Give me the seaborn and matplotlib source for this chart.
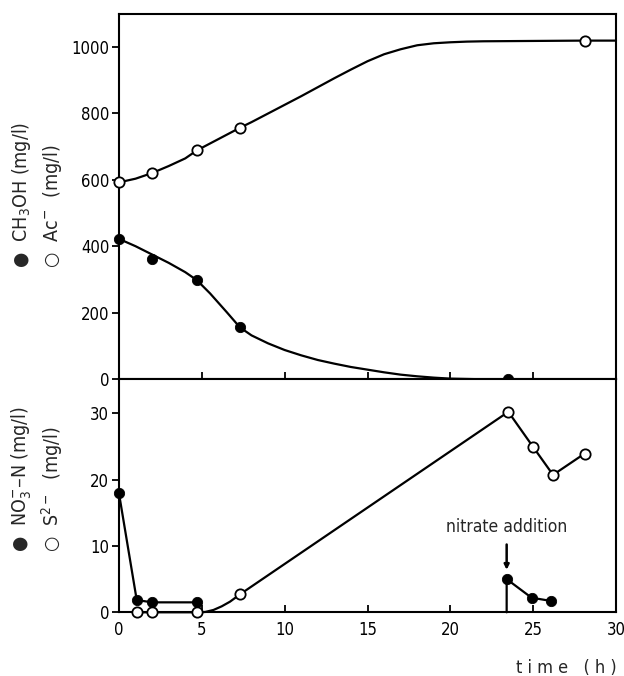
import matplotlib
matplotlib.use("Agg")
import matplotlib.pyplot as plt
import seaborn as sns

# ---- measured points (top panel) ----
ac_t = [0, 2.0, 4.7, 7.3, 28.1]
ac_v = [592, 620, 688, 756, 1018]
meoh_t = [0, 2.0, 4.7, 7.3, 23.5]
meoh_v = [422, 362, 298, 156, 0]

# fitted curves (top panel)
ac_curve_t = [0, 1, 2, 3, 4, 4.7, 6, 7.3, 8, 9, 10, 11, 12, 13, 14, 15, 16, 17, 18, 19, 20, 21, 22, 25, 28, 30]
ac_curve_v = [592, 603, 620, 641, 664, 688, 722, 756, 773, 799, 825, 851, 878, 905, 931, 956, 977, 992, 1004, 1010, 1013, 1015, 1016, 1017, 1018, 1018]
meoh_curve_t = [0, 1, 2, 3, 4, 4.7, 5.5, 6.5, 7.3, 8, 9, 10, 11, 12, 13, 14, 15, 16, 17, 18, 19, 20, 21, 22, 23.5, 30]
meoh_curve_v = [422, 400, 375, 350, 322, 298, 258, 202, 156, 132, 108, 88, 72, 58, 47, 37, 29, 21, 14, 9, 5, 2, 1, 0, 0, 0]

# ---- measured points (bottom panel) ----
no3_t1 = [0, 1.07, 2.0, 4.7]
no3_v1 = [17.9, 1.85, 1.5, 1.5]
no3_t2 = [23.4, 24.9, 26.1]
no3_v2 = [5.0, 2.2, 1.7]
s2_t = [1.07, 2.0, 4.7, 7.3, 23.5, 25.0, 26.2, 28.1]
s2_v = [0, 0, 0, 2.7, 30.2, 24.9, 20.7, 23.9]
# S2- connecting line
s2_line_t = [1.07, 2.0, 4.7, 5.2, 5.7, 6.2, 6.7, 7.3, 23.5, 25.0, 26.2, 28.1]
s2_line_v = [0, 0, 0, 0.05, 0.35, 0.9, 1.6, 2.7, 30.2, 24.9, 20.7, 23.9]

top_yticks = [0, 200, 400, 600, 800, 1000]
bot_yticks = [0, 10, 20, 30]
xticks = [0, 5, 10, 15, 20, 25, 30]

sns.set_theme(style="ticks")
plt.rcParams['font.family'] = ['DejaVu Sans']
plt.rcParams['font.stretch'] = 'condensed'
plt.rcParams['axes.linewidth'] = 1.5

fig = plt.figure(figsize=(6.24, 6.76), dpi=100)
L, R = 119 / 624, 616 / 624
ax1 = fig.add_axes([L, 1 - 379.3 / 676, R - L, (379.3 - 14) / 676])
ax2 = fig.add_axes([L, 1 - 612.3 / 676, R - L, (612.3 - 379.3) / 676])

lw = 1.6
ms = 55
fs = 12
lfs = 14

def line(ax, x, y):
    sns.lineplot(x=x, y=y, ax=ax, color='black', lw=lw, sort=False, estimator=None)

# top panel
line(ax1, ac_curve_t, ac_curve_v)
line(ax1, meoh_curve_t, meoh_curve_v)
sns.scatterplot(x=ac_t, y=ac_v, ax=ax1, marker='o', s=ms, facecolor='white',
                edgecolor='black', linewidth=1.3, zorder=5, clip_on=False)
sns.scatterplot(x=meoh_t, y=meoh_v, ax=ax1, marker='o', s=ms, color='black',
                edgecolor='black', zorder=5, clip_on=False)

# bottom panel
line(ax2, no3_t1, no3_v1)
line(ax2, [no3_t2[0]] + no3_t2, [0] + no3_v2)
line(ax2, s2_line_t, s2_line_v)
sns.scatterplot(x=s2_t, y=s2_v, ax=ax2, marker='o', s=ms, facecolor='white',
                edgecolor='black', linewidth=1.3, zorder=5, clip_on=False)
sns.scatterplot(x=no3_t1 + no3_t2, y=no3_v1 + no3_v2, ax=ax2, marker='o', s=ms,
                color='black', edgecolor='black', zorder=6, clip_on=False)

ax2.annotate('nitrate addition', xy=(23.4, 6.4), xytext=(23.4, 12.9),
             ha='center', va='center', fontsize=fs + 0.5,
             arrowprops=dict(arrowstyle='-|>', color='black', lw=1.8,
                             shrinkA=4, shrinkB=0, mutation_scale=7))

for ax in (ax1, ax2):
    ax.set_xlim(0, 30)
    ax.set_xticks(xticks)
    for s in ax.spines.values():
        s.set_visible(True)
        s.set_color('black')
    ax.tick_params(axis='x', direction='in', length=5, width=1.3, colors='black', labelsize=fs, pad=6)
    ax.tick_params(axis='y', direction='out', length=5, width=1.3, colors='black', labelsize=fs, pad=2)
    for ln in ax.lines:
        ln.set_clip_on(False)

ax1.set_ylim(0, 1098)
ax1.set_yticks(top_yticks)
ax1.tick_params(axis='x', labelbottom=False)
ax2.set_ylim(0, 35.1)
ax2.set_yticks(bot_yticks)
ax2.set_xticklabels([str(t) for t in xticks])

fig.text(617 / 624, 1 - 668 / 676, 't i m e   ( h )', ha='right', va='center', fontsize=13)

fig.text(22 / 624, 1 - 268 / 676, '\u25CF  CH$_3$OH (mg/l)', rotation=90, ha='center', va='bottom', fontsize=lfs)
fig.text(52 / 624, 1 - 268 / 676, '\u25CB  Ac$^{-}$  (mg/l)', rotation=90, ha='center', va='bottom', fontsize=lfs)
fig.text(22 / 624, 1 - 552 / 676, '\u25CF  NO$_3^{-}$\u2013N (mg/l)', rotation=90, ha='center', va='bottom', fontsize=lfs)
fig.text(52 / 624, 1 - 552 / 676, '\u25CB  S$^{2-}$  (mg/l)', rotation=90, ha='center', va='bottom', fontsize=lfs)

fig.savefig('out.png', dpi=100)
